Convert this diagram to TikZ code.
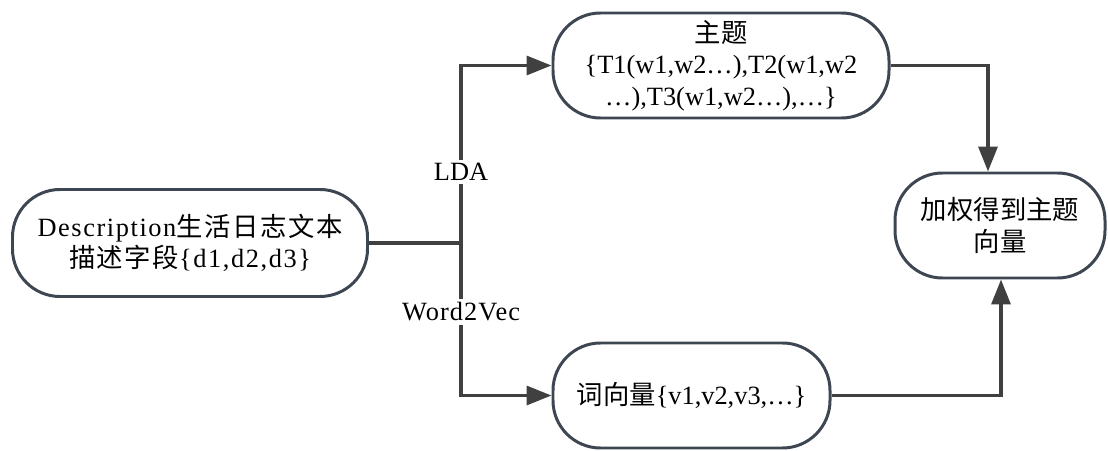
\documentclass[tikz,border=0pt]{standalone}
\usepackage{fontspec}
\setmainfont{Liberation Serif}
\newfontfamily\cjk{Noto Sans CJK SC}
\usepackage{tikz}
\usetikzlibrary{arrows.meta,positioning}
\usepackage{xcolor}
\definecolor{edgegray}{HTML}{404040}
\definecolor{boxline}{HTML}{3E4652}
\tikzset{
  proc/.style   ={draw=boxline, rounded corners=9.5mm, line width=1.7pt,
                  fill=white, inner sep=2pt, align=center,
                  font=\fontsize{15pt}{18pt}\selectfont},
  link/.style   ={line width=1.9pt, draw=edgegray},
  arr/.style    ={-{Triangle[length=5mm, width=3.8mm]}, line width=1.9pt,
                  draw=edgegray},
  elbl/.style   ={fill=white, inner sep=2pt,
                  font=\fontsize{15pt}{18pt}\selectfont},
}

\begin{document}
\begin{tikzpicture}
  \useasboundingbox (0,0) rectangle (22.16,9);
  \node[proc, minimum width=7.1cm, minimum height=2.14cm] (desc) at (3.80,4.14)
    {\addfontfeature{LetterSpace=6}Description{\cjk\addfontfeature{LetterSpace=6}生活日志文本}\\
     {\cjk\addfontfeature{LetterSpace=6}描述字段}\addfontfeature{LetterSpace=6}\{d1,d2,d3\}};
  \node[proc, minimum width=6.72cm, minimum height=2.1cm] (topic) at (14.42,7.69)
    {{\cjk 主题}\\ \{T1(w1,w2…),T2(w1,w2\\ …),T3(w1,w2…),…\}};
  \node[proc, minimum width=5.54cm, minimum height=2.1cm] (wvec) at (13.83,1.09)
    {{\cjk 词向量}\{v1,v2,v3,…\}};
  \node[proc, minimum width=4.2cm, minimum height=2.1cm] (weight) at (20.00,4.49)
    {{\cjk 加权得到主题}\\ {\cjk 向量}};
  \coordinate (jn) at (9.22,4.14);
  \draw[link] (desc.east) -- (jn);
  \draw[arr] (jn) |- (topic.west);
  \draw[arr] (jn) |- (wvec.west);
  \draw[arr] (topic.east) -| ([xshift=-2.4mm]weight.north);
  \draw[arr] (wvec.east) -| ([xshift=0.2mm]weight.south);
  \node[elbl] (lda) at (9.22,5.56) {LDA};
  \node[elbl] (w2v) at (9.22,2.76) {\addfontfeature{LetterSpace=4}Word2Vec};
\end{tikzpicture}
\end{document}
